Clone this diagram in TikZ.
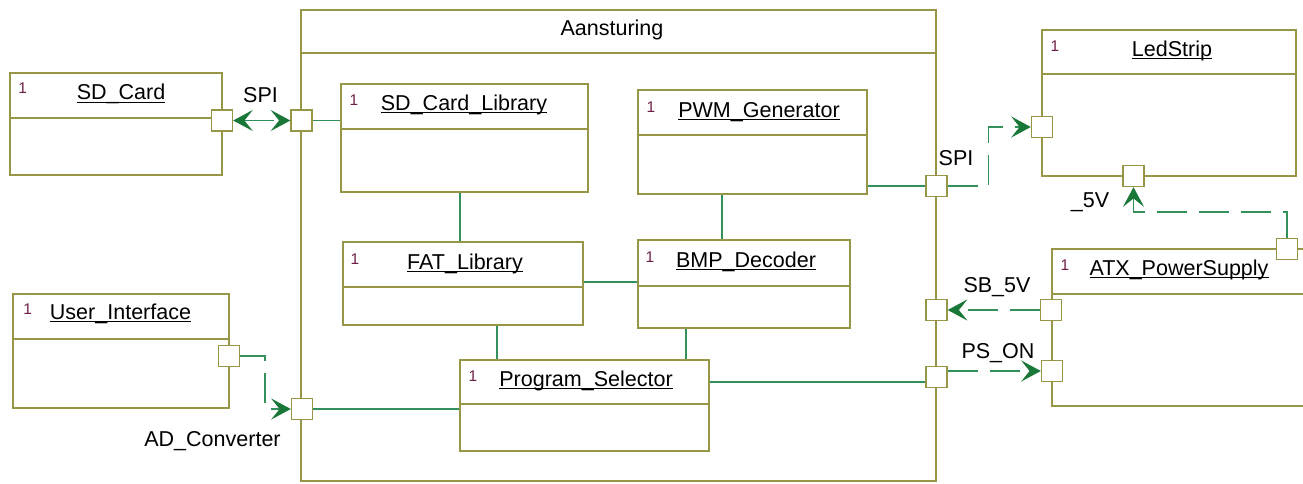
\documentclass[tikz,border=0pt]{standalone}
\usepackage{fontspec}
\setmainfont{Liberation Sans}
\usepackage{tikz}
\usetikzlibrary{arrows.meta,fit,positioning}
\definecolor{umlolive}{RGB}{150,150,70}
\definecolor{umlgreen}{RGB}{50,145,90}
\definecolor{umltip}{RGB}{25,120,55}
\definecolor{umlmult}{RGB}{110,30,70}
\newcommand{\ulname}[1]{\setbox0=\hbox{#1}\rlap{\rule[-2.4pt]{\wd0}{0.7pt}}\box0}

\tikzset{
  umlbox/.style={draw=umlolive, line width=1.1pt, inner sep=0pt},
  divider/.style={draw=umlolive, line width=1.1pt},
  port/.style={draw=umlolive, fill=white, line width=1.1pt, minimum size=0.52cm, inner sep=0pt},
  objname/.style={font=\fontsize{15.3}{18}\selectfont, inner sep=0pt, anchor=base},
  mult/.style={font=\fontsize{11}{13}\selectfont, text=umlmult, inner sep=0pt, anchor=base},
  linklabel/.style={font=\fontsize{15.3}{18}\selectfont, inner sep=0pt, anchor=base},
  flowtip/.tip={Stealth[length=14pt, width=15pt, inset=6pt, color=umltip]},
  wire/.style={draw=umlgreen, line width=1.1pt},
  flow/.style={wire, dash pattern=on 0.75cm off 0.3cm, -flowtip},
}

\begin{document}
\begin{tikzpicture}[x=0.025cm, y=-0.025cm]
    \useasboundingbox (0,0) rectangle (1303,483);
    \clip (0,0) rectangle (1303,483);

    % Outer block
    \node[umlbox, fit={(301,10)(936,481)}] (aanst) {};
    \draw[divider] (aanst.west |- 0,53) -- (aanst.east |- 0,53);
    \node[linklabel] (aanstT) at (612,35) {Aansturing};

    % External objects
    \node[umlbox, fit={(10,73)(222,175)}] (sdcard) {};
    \draw[divider] (sdcard.west |- 0,118) -- (sdcard.east |- 0,118);
    \node[mult] (sdcardM) at (22.7,93) {1};
    \node[objname] (sdcardT) at (121,99.5) {\ulname{SD\_Card}};

    \node[umlbox, fit={(13,294)(229,408)}] (ui) {};
    \draw[divider] (ui.west |- 0,339) -- (ui.east |- 0,339);
    \node[mult] (uiM) at (27.7,314) {1};
    \node[objname] (uiT) at (120.5,319) {\ulname{User\_Interface}};

    \node[umlbox, fit={(1042,30)(1296,176)}] (led) {};
    \draw[divider] (led.west |- 0,74) -- (led.east |- 0,74);
    \node[mult] (ledM) at (1055,51) {1};
    \node[objname] (ledT) at (1172,56) {\ulname{LedStrip}};

    \node[umlbox, fit={(1052,249)(1340,406)}] (atx) {};
    \draw[divider] (atx.west |- 0,294) -- (atx.east |- 0,294);
    \node[mult] (atxM) at (1065,270) {1};
    \node[objname] (atxT) at (1179,275) {\ulname{ATX\_PowerSupply}};

    % Inner objects
    \node[umlbox, fit={(341,84)(588,192)}] (sdlib) {};
    \draw[divider] (sdlib.west |- 0,129) -- (sdlib.east |- 0,129);
    \node[mult] (sdlibM) at (354,105) {1};
    \node[objname] (sdlibT) at (464,110) {\ulname{SD\_Card\_Library}};

    \node[umlbox, fit={(638,90)(867,194)}] (pwm) {};
    \draw[divider] (pwm.west |- 0,135) -- (pwm.east |- 0,135);
    \node[mult] (pwmM) at (651,112) {1};
    \node[objname] (pwmT) at (759,117) {\ulname{PWM\_Generator}};

    \node[umlbox, fit={(343,242)(583,325)}] (fat) {};
    \draw[divider] (fat.west |- 0,287) -- (fat.east |- 0,287);
    \node[mult] (fatM) at (355,264) {1};
    \node[objname] (fatT) at (465,269) {\ulname{FAT\_Library}};

    \node[umlbox, fit={(638,240)(850,328)}] (bmp) {};
    \draw[divider] (bmp.west |- 0,286) -- (bmp.east |- 0,286);
    \node[mult] (bmpM) at (650,262) {1};
    \node[objname] (bmpT) at (746,267) {\ulname{BMP\_Decoder}};

    \node[umlbox, fit={(460,360)(709,451)}] (prog) {};
    \draw[divider] (prog.west |- 0,404) -- (prog.east |- 0,404);
    \node[mult] (progM) at (473,381) {1};
    \node[objname] (progT) at (586,386) {\ulname{Program\_Selector}};

    % Guide positions
    \coordinate (sdFatX) at (460,0);
    \coordinate (pwmBmpX) at (722,0);
    \coordinate (fatBmpY) at (0,282);
    \coordinate (fatProgX) at (497,0);
    \coordinate (bmpProgX) at (686,0);
    \coordinate (progY) at (0,382);

    % Ports
    \node[port] (sdP) at (222,120.5) {};
    \node[port] (aSdP) at (301.5,120.5) {};
    \node[port] (uiP) at (229,356) {};
    \node[port] (aAdP) at (302,409) {};
    \node[port] (aSpiP) at (936.5,186) {};
    \node[port] (ledP) at (1042,127) {};
    \node[port] (ledBP) at (1133.5,176) {};
    \node[port] (atxTP) at (1287,249) {};
    \node[port] (aSbP) at (936.5,310) {};
    \node[port] (atxSbP) at (1051,310) {};
    \node[port] (aPsP) at (936.5,377) {};
    \node[port] (atxPsP) at (1052,371) {};

    % Internal wiring
    \draw[wire] (aSdP.east) -- (aSdP.east -| sdlib.west);
    \draw[wire] (sdlib.south -| sdFatX) -- (fat.north -| sdFatX);
    \draw[wire] (pwm.south -| pwmBmpX) -- (bmp.north -| pwmBmpX);
    \draw[wire] (fat.east |- fatBmpY) -- (bmp.west |- fatBmpY);
    \draw[wire] (fat.south -| fatProgX) -- (prog.north -| fatProgX);
    \draw[wire] (bmp.south -| bmpProgX) -- (prog.north -| bmpProgX);
    \draw[wire] (prog.east |- progY) -- (aPsP.west |- progY);
    \draw[wire] (aAdP.east) -- (aAdP.east -| prog.west);
    \draw[wire] (pwm.east |- aSpiP) -- (aSpiP.west);

    % External links
    \draw[flow, flowtip-flowtip] (sdP) -- (aSdP);
    \draw[flow] (uiP.east) -- ++(25,0) |- (aAdP.west);
    \draw[flow] (aSpiP.east) -- ++(41,0) |- (ledP.west);
    \draw[flow] (atxTP.north) -- ++(0,-26) -| (ledBP.south);
    \draw[flow] (atxSbP) -- (aSbP);
    \draw[flow] (aPsP.east |- atxPsP) -- (atxPsP.west);

    % Link labels
    \node[linklabel] (spiL) at (260.5,102.7) {SPI};
    \node[linklabel] (spiR) at (956,165) {SPI};
    \node[linklabel] (v5) at (1090,207) {\_5V};
    \node[linklabel] (sb5v) at (997,292.7) {SB\_5V};
    \node[linklabel] (pson) at (998,358) {PS\_ON};
    \node[linklabel] (adc) at (212.5,446.7) {AD\_Converter};
\end{tikzpicture}
\end{document}
